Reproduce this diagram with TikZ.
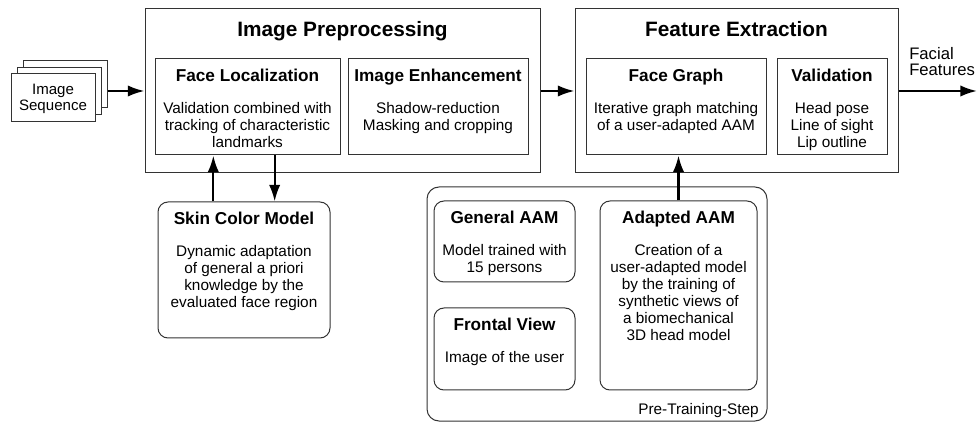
\documentclass[tikz,border=0pt]{standalone}
\usepackage{fontspec}
\setmainfont{Liberation Sans}
\usepackage{tikz}
\usetikzlibrary{arrows.meta, fit}
\tikzstyle{arrow} = [line width=1.7pt,-{Latex[length=12.5pt,width=8.5pt]}]
\tikzstyle{box} = [draw=black!80, line width=0.75pt, inner sep=0pt]
\tikzstyle{rbox} = [box, rounded corners=7.5pt]
\tikzstyle{maintitle} = [anchor=base, font=\fontsize{15.6}{18}\selectfont\bfseries]
\tikzstyle{head} = [anchor=base, font=\fontsize{12.9}{15}\selectfont\bfseries]
\tikzstyle{body} = [anchor=north, inner sep=0pt, align=center, font=\fontsize{11.5}{12.75}\selectfont]

\begin{document}
\begin{tikzpicture}[x=0.75pt, y=-0.75pt]
	\useasboundingbox (0,0) rectangle (977,423);
	\node[box, fill=white, fit={(23,61) (107,108)}] (seqback) {};
	\node[box, fill=white, fit={(17,68) (101,115)}] (seqmid) {};
	\node[box, fill=white, fit={(11,74) (95,122)}] (seqfront) {};
	\node[align=center, inner sep=0pt, font=\fontsize{11.3}{12}\selectfont] (seqtext) at (53,99) {Image\\Sequence};

	\node[box, fit={(145,9) (540,173)}] (prep) {};
	\node[maintitle] (preptitle) at (342.5,37) {Image Preprocessing};
	\node[box, fit={(155,59) (340,155)}] (faceloc) {};
	\node[head] (faceloctitle) at (247.5,82) {Face Localization};
	\node[body] (faceloctext) at (247.5,102) {Validation combined with\\tracking of characteristic\\landmarks};
	\node[box, fit={(348,59) (528,155)}] (enhance) {};
	\node[head] (enhancetitle) at (438,82) {Image Enhancement};
	\node[body] (enhancetext) at (438,102) {Shadow-reduction\\Masking and cropping};

	\node[box, fit={(575,9) (898,173)}] (feat) {};
	\node[maintitle] (feattitle) at (736.5,37) {Feature Extraction};
	\node[box, fit={(586,59) (766,155)}] (facegraph) {};
	\node[head] (facegraphtitle) at (676,82) {Face Graph};
	\node[body] (facegraphtext) at (676,102) {Iterative graph matching\\of a user-adapted AAM};
	\node[box, fit={(777,59) (887,155)}] (valid) {};
	\node[head] (validtitle) at (832,82) {Validation};
	\node[body] (validtext) at (832,102) {Head pose\\Line of sight\\Lip outline};

	\node[rbox, fit={(158,202) (330,338)}] (skin) {};
	\node[head] (skintitle) at (244,225) {Skin Color Model};
	\node[body] (skintext) at (244,245) {Dynamic adaptation\\of general a priori\\knowledge by the\\evaluated face region};

	\node[rbox, rounded corners=9pt, fit={(427,187) (767,421)}] (pretrain) {};
	\node[anchor=base east, inner sep=0pt, font=\fontsize{11.5}{12.75}\selectfont] (pretraintext) at (759,415) {Pre-Training-Step};
	\node[rbox, fit={(434,201) (575,282)}] (general) {};
	\node[head] (generaltitle) at (504.5,224) {General AAM};
	\node[body] (generaltext) at (504.5,244) {Model trained with\\15 persons};
	\node[rbox, fit={(434,308) (575,390)}] (frontal) {};
	\node[head] (frontaltitle) at (504.5,331) {Frontal View};
	\node[body] (frontaltext) at (504.5,351) {Image of the user};
	\node[rbox, fit={(600,201) (757,390)}] (adapted) {};
	\node[head] (adaptedtitle) at (678.5,224) {Adapted AAM};
	\node[body] (adaptedtext) at (678.5,244) {Creation of a\\user-adapted model\\by the training of\\synthetic views of\\a biomechanical\\3D head model};

	\node[anchor=north west, inner sep=0pt, align=left, font=\fontsize{12.5}{12}\selectfont] (outtext) at (909,47) {Facial\\Features};
	\coordinate (outend) at (977,91);
	\coordinate (skinup) at ([xshift=-23pt]skin.north);
	\coordinate (skindown) at ([xshift=23pt]skin.north);

	\draw[arrow] (seqback.east |- prep.west) -- (prep.west);
	\draw[arrow] (prep.east) -- (feat.west);
	\draw[arrow] (feat.east) -- (outend);
	\draw[arrow] (skinup) -- (skinup |- faceloc.south);
	\draw[arrow] (skindown |- faceloc.south) -- (skindown);
	\draw[arrow] (adapted.north) -- (adapted.north |- facegraph.south);
\end{tikzpicture}
\end{document}
